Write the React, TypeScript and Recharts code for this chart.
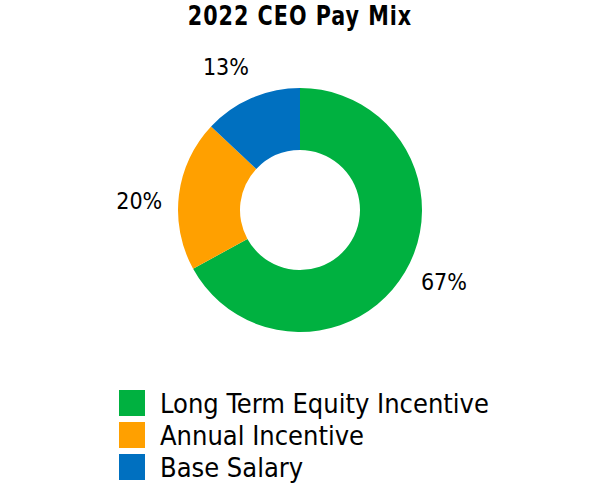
import React from "react";
import { PieChart, Pie, Cell } from "recharts";

const categories = ["Long Term Equity Incentive", "Annual Incentive", "Base Salary"];
const values = [67, 20, 13];
const colors = ["#00B140", "#FFA000", "#0070C0"];
const title = "2022 CEO Pay Mix";

const data = categories.map((name, i) => ({ name, value: values[i] }));

const FONT = "'DejaVu Sans Condensed', 'DejaVu Sans', sans-serif";
const RAD = Math.PI / 180;

const renderLabel = (props: any) => {
  const { cx, cy, midAngle, value } = props;
  const r = 161;
  const a = midAngle + 4;
  const x = cx + r * Math.cos(-a * RAD);
  const y = cy + r * Math.sin(-a * RAD);
  return (
    <text x={x} y={y} textAnchor="middle" dominantBaseline="central" fontSize={23} fill="#000" fontFamily={FONT}>
      {`${value}%`}
    </text>
  );
};

export default function App() {
  return (
    <div style={{ position: "absolute", left: 0, top: 0, width: 600, height: 500, background: "#fff" }}>
      <div
        style={{
          position: "absolute",
          left: 0,
          top: 3,
          width: 600,
          textAlign: "center",
          fontFamily: FONT,
          fontWeight: "bold",
          fontSize: 23,
          lineHeight: "30px",
          letterSpacing: 1,
          color: "#000",
          transform: "scaleY(1.12)",
          transformOrigin: "50% 100%",
        }}
      >
        {title}
      </div>
      <PieChart width={600} height={500} margin={{ top: 0, right: 0, bottom: 0, left: 0 }}>
        <Pie
          data={data}
          dataKey="value"
          nameKey="name"
          cx={300}
          cy={210}
          innerRadius={60}
          outerRadius={122}
          startAngle={90}
          endAngle={-270}
          stroke="none"
          label={renderLabel}
          labelLine={false}
          isAnimationActive={false}
        >
          {data.map((d, i) => (
            <Cell key={d.name} fill={colors[i]} />
          ))}
        </Pie>
      </PieChart>
      <div style={{ position: "absolute", left: 119, top: 387, fontFamily: FONT }}>
        {data.map((d, i) => (
          <div key={d.name} style={{ display: "flex", alignItems: "center", height: 32 }}>
            <div style={{ width: 26, height: 26, background: colors[i], marginRight: 15 }} />
            <span style={{ fontSize: 27, color: "#000", whiteSpace: "nowrap" }}>{d.name}</span>
          </div>
        ))}
      </div>
    </div>
  );
}
